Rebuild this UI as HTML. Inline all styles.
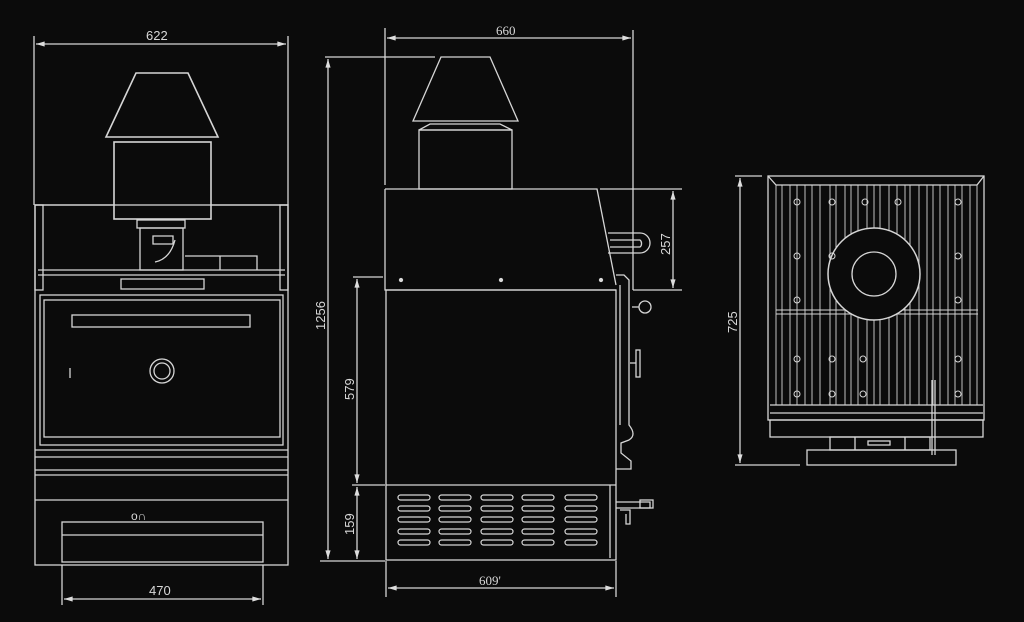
<!DOCTYPE html>
<html><head><meta charset="utf-8"><style>
html,body{margin:0;padding:0;background:#0b0b0b;}
svg{display:block}
text{font-family:"Liberation Sans",sans-serif;fill:#d8d8d8;font-size:13px}
</style></head><body>
<svg width="1024" height="622" viewBox="0 0 1024 622" xmlns="http://www.w3.org/2000/svg">
<rect width="1024" height="622" fill="#0b0b0b"/>
<defs>
<marker id="a" viewBox="0 0 10 6" refX="10" refY="3" markerWidth="8" markerHeight="4" orient="auto-start-reverse"><path d="M0,0 L10,3 L0,6z" fill="#ddd"/></marker>
</defs>
<g stroke="#d6d6d6" stroke-width="1.3" fill="none">
<!-- LEFT VIEW -->
<line x1="34" y1="36" x2="34" y2="205"/><line x1="288" y1="36" x2="288" y2="205"/>
<line x1="36" y1="44" x2="286" y2="44" marker-start="url(#a)" marker-end="url(#a)"/>
<path d="M136,73 L188,73 L218,137 L106,137 Z" stroke-width="1.6"/>
<rect x="114" y="142" width="97" height="77" stroke-width="1.6"/>
<path d="M35,205 L114,205 M211,205 L288,205"/>
<rect x="35" y="205" width="253" height="360"/>
<rect x="35" y="205" width="8" height="85"/><rect x="280" y="205" width="8" height="85"/>
<rect x="137" y="220" width="48" height="8"/><rect x="140" y="228" width="43" height="42"/>
<path d="M153,236 h20 v8 h-20z M155,262 q15,-3 20,-22"/>
<path d="M185,256 h72 v14 M220,256 v14"/>
<line x1="38" y1="270" x2="285" y2="270"/><line x1="38" y1="275" x2="285" y2="275"/>
<rect x="121" y="279" width="83" height="10"/>
<rect x="40" y="295" width="243" height="150"/>
<rect x="44" y="300" width="236" height="137"/>
<rect x="72" y="315" width="178" height="12"/>
<circle cx="162" cy="371" r="12"/><circle cx="162" cy="371" r="8"/>
<line x1="70" y1="368" x2="70" y2="378"/>
<line x1="35" y1="450" x2="288" y2="450"/><line x1="35" y1="457" x2="288" y2="457"/>
<line x1="35" y1="470" x2="288" y2="470"/><line x1="35" y1="475" x2="288" y2="475"/>
<line x1="35" y1="500" x2="288" y2="500"/>
<rect x="62" y="522" width="201" height="40"/><line x1="62" y1="535" x2="263" y2="535"/>
<line x1="62" y1="565" x2="62" y2="605"/><line x1="263" y1="565" x2="263" y2="605"/>
<line x1="64" y1="599" x2="261" y2="599" marker-start="url(#a)" marker-end="url(#a)"/>
<!-- MIDDLE VIEW -->
<line x1="385" y1="28" x2="385" y2="185"/><line x1="633" y1="30" x2="633" y2="290"/>
<line x1="387" y1="38" x2="631" y2="38" marker-start="url(#a)" marker-end="url(#a)"/>
<line x1="325" y1="57" x2="435" y2="57"/>
<line x1="328" y1="59" x2="328" y2="559" marker-start="url(#a)" marker-end="url(#a)"/>
<path d="M441,57 L490,57 L518,121 L413,121 Z"/>
<path d="M419,130 L430,124 L500,124 L512,130 Z"/>
<rect x="419" y="130" width="93" height="59"/>
<path d="M385,189 L597,189 L616,285 M385,189 L385,290 L616,290"/>
<circle cx="401" cy="280" r="1.5" fill="#ddd"/><circle cx="501" cy="280" r="1.5" fill="#ddd"/><circle cx="601" cy="280" r="1.5" fill="#ddd"/>
<path d="M608,233 h32 a10,10 0 0 1 0,20 h-32 M610,240 h30 a3,4 0 0 1 0,7 h-30"/>
<line x1="600" y1="189" x2="682" y2="189"/><line x1="633" y1="290" x2="682" y2="290"/>
<line x1="673" y1="191" x2="673" y2="288" marker-start="url(#a)" marker-end="url(#a)"/>
<rect x="386" y="290" width="230" height="270"/>
<path d="M616,275 h8 l5,5 v145 q8,10 0,15 l-8,3 v10 l10,8 v8 h-15"/>
<path d="M620,285 v140"/>
<circle cx="645" cy="307" r="6"/><line x1="632" y1="307" x2="639" y2="307"/>
<rect x="636" y="350" width="4" height="27"/><line x1="630" y1="363" x2="636" y2="363"/>
<line x1="386" y1="485" x2="616" y2="485"/><line x1="610" y1="485" x2="610" y2="558"/>
<path d="M616,502 h34 v6 h-34 M620,510 h10 v14 h-4 v-10"/>
<rect x="640" y="500" width="13" height="8"/>
<line x1="353" y1="277" x2="383" y2="277"/><line x1="352" y1="485" x2="385" y2="485"/><line x1="320" y1="561" x2="385" y2="561"/>
<line x1="357" y1="279" x2="357" y2="483" marker-start="url(#a)" marker-end="url(#a)"/>
<line x1="357" y1="487" x2="357" y2="559" marker-start="url(#a)" marker-end="url(#a)"/>
<line x1="386" y1="561" x2="386" y2="597"/><line x1="616" y1="561" x2="616" y2="597"/>
<line x1="388" y1="588" x2="614" y2="588" marker-start="url(#a)" marker-end="url(#a)"/>
<!-- RIGHT VIEW -->
<line x1="735" y1="176" x2="762" y2="176"/><line x1="735" y1="465" x2="800" y2="465"/>
<line x1="740" y1="178" x2="740" y2="463" marker-start="url(#a)" marker-end="url(#a)"/>
<rect x="768" y="176" width="216" height="244"/>
<path d="M768,176 L776,185 L977,185 L984,176"/>
<g stroke-width="0.9">
<path d="M776,185 V405 M782,185 V405 M790,185 V405 M797,185 V405 M805,185 V405 M812,185 V405 M820,185 V405 M830,185 V405 M836,185 V405 M845,185 V405 M851,185 V405 M858,185 V405 M867,185 V405 M874,185 V405 M880,185 V405 M889,185 V405 M897,185 V405 M905,185 V405 M910,185 V405 M919,185 V405 M927,185 V405 M933,185 V405 M940,185 V405 M948,185 V405 M955,185 V405 M962,185 V405 M970,185 V405 M977,185 V405"/>
<line x1="776" y1="310" x2="978" y2="310"/><line x1="776" y1="314" x2="978" y2="314"/>
</g>
<circle cx="874" cy="274" r="46" fill="#0b0b0b" stroke-width="1.5"/><circle cx="874" cy="274" r="22"/>
<g stroke-width="1">
<circle cx="797" cy="202" r="3"/><circle cx="832" cy="202" r="3"/><circle cx="865" cy="202" r="3"/><circle cx="898" cy="202" r="3"/><circle cx="958" cy="202" r="3"/>
<circle cx="797" cy="256" r="3"/><circle cx="832" cy="256" r="3"/><circle cx="958" cy="256" r="3"/>
<circle cx="797" cy="300" r="3"/><circle cx="958" cy="300" r="3"/>
<circle cx="797" cy="359" r="3"/><circle cx="832" cy="359" r="3"/><circle cx="863" cy="359" r="3"/><circle cx="958" cy="359" r="3"/>
<circle cx="797" cy="394" r="3"/><circle cx="832" cy="394" r="3"/><circle cx="863" cy="394" r="3"/><circle cx="958" cy="394" r="3"/>
</g>
<line x1="770" y1="405" x2="983" y2="405"/><line x1="770" y1="413" x2="983" y2="413"/>
<rect x="770" y="420" width="213" height="17"/>
<rect x="830" y="437" width="100" height="13"/><line x1="855" y1="437" x2="855" y2="450"/><line x1="905" y1="437" x2="905" y2="450"/>
<rect x="868" y="441" width="22" height="4"/>
<rect x="807" y="450" width="149" height="15"/>
<line x1="932" y1="380" x2="932" y2="455"/><line x1="935" y1="380" x2="935" y2="455"/>
</g>
<!-- vent slots -->
<g stroke="#d6d6d6" stroke-width="1.2" fill="none">
<g id="col"><rect x="398" y="495" width="32" height="5" rx="2.5"/><rect x="398" y="506" width="32" height="5" rx="2.5"/><rect x="398" y="517" width="32" height="5" rx="2.5"/><rect x="398" y="529" width="32" height="5" rx="2.5"/><rect x="398" y="540" width="32" height="5" rx="2.5"/></g>
<use href="#col" x="41"/><use href="#col" x="83"/><use href="#col" x="124"/><use href="#col" x="167"/>
</g>
<text x="146" y="40">622</text>
<text x="149" y="595">470</text>
<text x="131" y="520" style="font-size:12px">o∩</text>
<text x="496" y="35" style="font-family:'Liberation Serif',serif">660</text>
<text x="479" y="585" style="font-family:'Liberation Serif',serif">609'</text>
<text transform="translate(325,330) rotate(-90)">1256</text>
<text transform="translate(354,400) rotate(-90)">579</text>
<text transform="translate(354,535) rotate(-90)">159</text>
<text transform="translate(670,255) rotate(-90)">257</text>
<text transform="translate(737,333) rotate(-90)">725</text>
</svg>
</body></html>
